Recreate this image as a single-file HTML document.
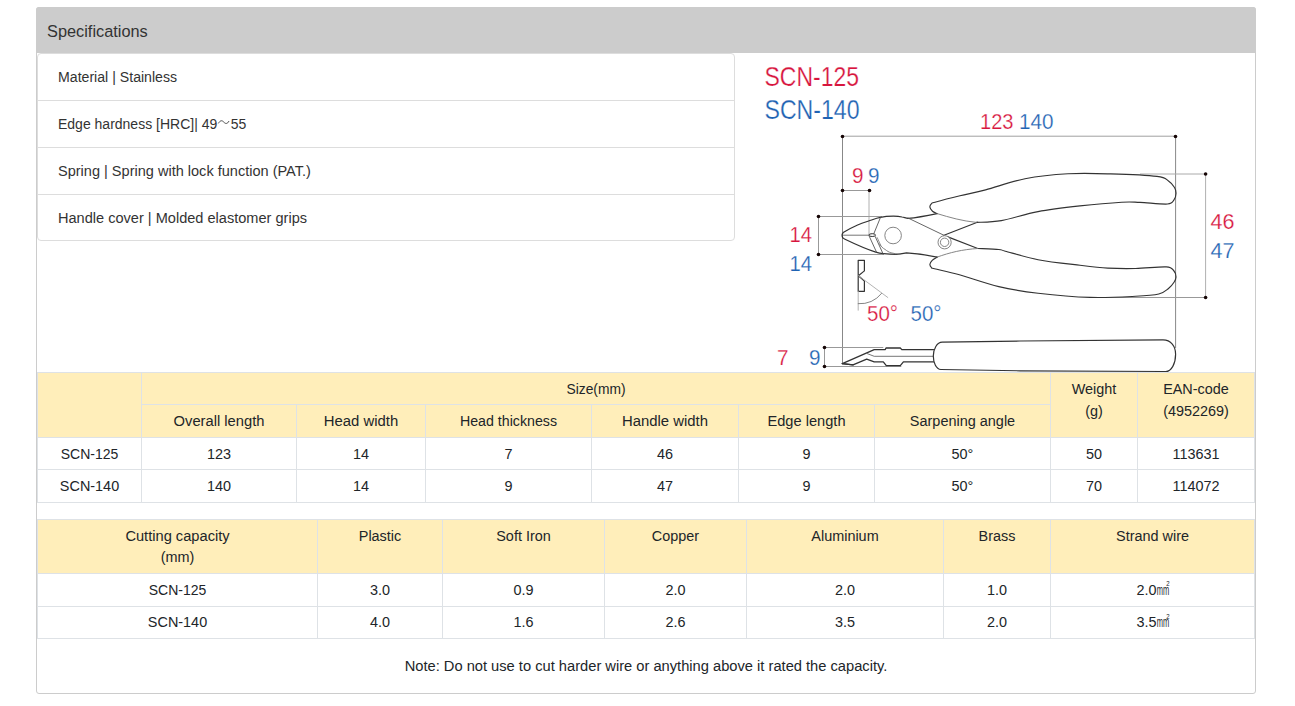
<!DOCTYPE html>
<html><head><meta charset="utf-8"><style>
html,body{margin:0;padding:0;background:#fff;width:1295px;height:706px;overflow:hidden;position:relative}
body{font-family:"Liberation Sans",sans-serif}
.a{position:absolute;box-sizing:content-box}
.tx{position:absolute;line-height:0;white-space:nowrap}
svg{position:absolute;left:0;top:0}
</style></head><body>
<div class="a" style="left:36px;top:7px;width:1218px;height:685px;border:1px solid #cccccc;border-radius:3px;background:#fff"></div>
<div class="a" style="left:36px;top:7px;width:1220px;height:46px;background:#cccccc;border-radius:3px 3px 0 0"></div>
<div class="tx" style="left:47px;top:32.14px;font-size:16.9px;color:#333;transform:scaleX(0.967);transform-origin:0 0;">Specifications</div>
<div class="a" style="left:37px;top:53px;width:696px;height:186px;border:1px solid #dddddd;border-radius:4px;background:#fff"></div>
<div class="a" style="left:38px;top:100px;width:696px;height:1px;background:#dddddd"></div>
<div class="a" style="left:38px;top:147px;width:696px;height:1px;background:#dddddd"></div>
<div class="a" style="left:38px;top:194px;width:696px;height:1px;background:#dddddd"></div>
<div class="tx" style="left:58px;top:76.83px;font-size:15.5px;color:#333;transform:scaleX(0.9116);transform-origin:0 0;">Material | Stainless</div>
<div class="tx" style="left:58px;top:123.83px;font-size:15.5px;color:#333;transform:scaleX(0.903);transform-origin:0 0;">Edge hardness [HRC]| 49<svg width="13" height="1" viewBox="0 0 13 1" style="position:relative;left:0;top:-6.5px;overflow:visible;vertical-align:baseline;margin:0 1px"><path d="M0.6,2.4 C2.5,-0.6 4.5,-1 6.5,1 C8.5,3 10.5,3.2 12.4,0" stroke="#333" stroke-width="0.9" fill="none"/></svg>55</div>
<div class="tx" style="left:58px;top:170.83px;font-size:15.5px;color:#333;transform:scaleX(0.9377);transform-origin:0 0;">Spring | Spring with lock function (PAT.)</div>
<div class="tx" style="left:58px;top:217.83px;font-size:15.5px;color:#333;transform:scaleX(0.9394);transform-origin:0 0;">Handle cover | Molded elastomer grips</div>
<svg width="1295" height="706" viewBox="0 0 1295 706" style="font-family:'Liberation Sans',sans-serif"><text x="764.5" y="85.6" font-size="27.5" fill="#d7153d" stroke="#fff" stroke-width="0.25" textLength="94.5" lengthAdjust="spacingAndGlyphs">SCN-125</text>
<text x="764.5" y="119.4" font-size="27.5" fill="#1f63b3" stroke="#fff" stroke-width="0.25" textLength="95" lengthAdjust="spacingAndGlyphs">SCN-140</text>
<text x="980" y="129.3" font-size="22.5" fill="#d7153d" stroke="#fff" stroke-width="0.25" textLength="33.5" lengthAdjust="spacingAndGlyphs">123</text>
<text x="1019" y="129.3" font-size="22.5" fill="#1f63b3" stroke="#fff" stroke-width="0.25" textLength="34.5" lengthAdjust="spacingAndGlyphs">140</text>
<text x="852" y="183" font-size="22.5" fill="#d7153d" stroke="#fff" stroke-width="0.25" textLength="11.5" lengthAdjust="spacingAndGlyphs">9</text>
<text x="868" y="183" font-size="22.5" fill="#1f63b3" stroke="#fff" stroke-width="0.25" textLength="11.5" lengthAdjust="spacingAndGlyphs">9</text>
<text x="789.5" y="242.4" font-size="22.5" fill="#d7153d" stroke="#fff" stroke-width="0.25" textLength="22.5" lengthAdjust="spacingAndGlyphs">14</text>
<text x="789.5" y="271" font-size="22.5" fill="#1f63b3" stroke="#fff" stroke-width="0.25" textLength="22.5" lengthAdjust="spacingAndGlyphs">14</text>
<text x="1210.5" y="229.4" font-size="22.5" fill="#d7153d" stroke="#fff" stroke-width="0.25" textLength="24" lengthAdjust="spacingAndGlyphs">46</text>
<text x="1210.5" y="257.5" font-size="22.5" fill="#1f63b3" stroke="#fff" stroke-width="0.25" textLength="24" lengthAdjust="spacingAndGlyphs">47</text>
<text x="867" y="321.4" font-size="22.5" fill="#d7153d" stroke="#fff" stroke-width="0.25" textLength="31" lengthAdjust="spacingAndGlyphs">50°</text>
<text x="910.5" y="321.4" font-size="22.5" fill="#1f63b3" stroke="#fff" stroke-width="0.25" textLength="31" lengthAdjust="spacingAndGlyphs">50°</text>
<text x="777" y="364.8" font-size="22.5" fill="#d7153d" stroke="#fff" stroke-width="0.25" textLength="11.5" lengthAdjust="spacingAndGlyphs">7</text>
<text x="809" y="364.8" font-size="22.5" fill="#1f63b3" stroke="#fff" stroke-width="0.25" textLength="11.5" lengthAdjust="spacingAndGlyphs">9</text>
<line x1="842.5" y1="136.2" x2="1175.5" y2="136.2" stroke="#a0a0a0" stroke-width="1"/>
<line x1="842.5" y1="136.5" x2="842.5" y2="363.6" stroke="#888" stroke-width="1"/>
<line x1="1175.6" y1="136.5" x2="1175.6" y2="348" stroke="#888" stroke-width="1"/>
<circle cx="842.5" cy="136.5" r="1.8" fill="#150505"/>
<circle cx="1175.5" cy="136.5" r="1.8" fill="#150505"/>
<line x1="842.5" y1="190.5" x2="869.5" y2="190.5" stroke="#999999" stroke-width="1"/>
<line x1="869.0" y1="190.5" x2="869.0" y2="235" stroke="#b0b0b0" stroke-width="1"/>
<circle cx="842.5" cy="190.5" r="1.8" fill="#150505"/>
<circle cx="869.5" cy="190.5" r="1.8" fill="#150505"/>
<line x1="818.5" y1="216.5" x2="818.5" y2="254.5" stroke="#999" stroke-width="1"/>
<line x1="818.5" y1="216.5" x2="882" y2="216.5" stroke="#999999" stroke-width="1"/>
<line x1="818.5" y1="254.5" x2="884" y2="254.5" stroke="#999999" stroke-width="1"/>
<circle cx="818.5" cy="216.5" r="1.8" fill="#150505"/>
<circle cx="818.5" cy="254.5" r="1.8" fill="#150505"/>
<line x1="1205.6" y1="173.9" x2="1205.6" y2="297.5" stroke="#b0b0b0" stroke-width="1"/>
<line x1="1140" y1="174.0" x2="1205.6" y2="174.0" stroke="#aaaaaa" stroke-width="1"/>
<line x1="1090" y1="297.5" x2="1205.6" y2="297.5" stroke="#999999" stroke-width="1"/>
<circle cx="1205.6" cy="174.0" r="1.8" fill="#150505"/>
<circle cx="1205.6" cy="297.5" r="1.8" fill="#150505"/>
<line x1="824.5" y1="347.5" x2="824.5" y2="366.5" stroke="#999" stroke-width="1"/>
<line x1="824.5" y1="347.5" x2="883.3" y2="347.5" stroke="#999999" stroke-width="1"/>
<line x1="824.5" y1="366.5" x2="901.3" y2="366.5" stroke="#999999" stroke-width="1"/>
<circle cx="824.5" cy="347.5" r="1.8" fill="#150505"/>
<circle cx="824.5" cy="366.5" r="1.8" fill="#150505"/>
<path d="M842.6,237.6 C842,236 842,233.6 843.2,232.6 C848,229.5 853,227 857.6,225 C862,223 865.5,222 868.6,221 C873,219.5 876.5,218 880.4,217.4 C884,216.6 888,216.2 893.4,216.2 C897,216.2 899.5,216.4 902,217 C904.5,217.5 906,218.2 908,218.4 C918,217.5 928,215.5 937.1,213.6" stroke="#333333" stroke-width="1.2" fill="none" stroke-linejoin="round" stroke-linecap="round"/>
<path d="M842.6,237.6 C843.2,238.3 844,238.7 845,239.2 C855,244 866,249 875.8,252.1 C878,252.9 881,253.5 883.6,253.7 C888,254.2 892,254.4 896.7,254.4 C901,254.2 904,253.4 906.5,252.9 C917,253.5 928,255.2 937.1,257.1" stroke="#333333" stroke-width="1.2" fill="none" stroke-linejoin="round" stroke-linecap="round"/>
<path d="M937.1,213.6 C936.33,213.20 933.70,212.27 932.5,211.2 C931.30,210.13 930.07,208.47 929.9,207.2 C929.73,205.93 930.65,204.43 931.5,203.6 C932.35,202.77 930.25,203.50 935,202.2 C939.75,200.90 951.57,197.85 960,195.8 C968.43,193.75 974.77,192.73 985.6,189.9 C996.43,187.07 1011.27,181.48 1025,178.8 C1038.73,176.12 1053.73,174.62 1068,173.8 C1082.27,172.98 1095.77,173.47 1110.6,173.9 C1125.43,174.33 1147.35,175.22 1157,176.4 C1166.65,177.58 1165.58,179.15 1168.5,181 C1171.42,182.85 1173.25,185.43 1174.5,187.5 C1175.75,189.57 1176.08,191.35 1176,193.4 C1175.92,195.45 1175.42,198.03 1174,199.8 C1172.58,201.57 1173.17,203.57 1167.5,204 C1161.83,204.43 1147.63,202.70 1140,202.4 C1132.37,202.10 1131.70,201.62 1121.7,202.2 C1111.70,202.78 1093.95,204.33 1080,205.9 C1066.05,207.47 1051.10,209.15 1038,211.6 C1024.90,214.05 1011.67,218.80 1001.4,220.6 C991.13,222.40 980.57,222.10 976.4,222.4" stroke="#333333" stroke-width="1.15" fill="none" stroke-linejoin="round" stroke-linecap="round"/>
<path d="M977.4,222.2 L944,235.3" stroke="#333333" stroke-width="1.15" fill="none" stroke-linejoin="round" stroke-linecap="round"/>
<path d="M937.1,257.1 C936.28,257.63 933.40,259.10 932.2,260.3 C931.00,261.50 930.02,263.08 929.9,264.3 C929.78,265.52 930.73,266.85 931.5,267.6 C932.27,268.35 929.85,267.60 934.5,268.8 C939.15,270.00 948.68,271.83 959.4,274.8 C970.12,277.77 985.68,283.53 998.8,286.6 C1011.92,289.67 1022.90,291.40 1038.1,293.2 C1053.30,295.00 1073.75,296.88 1090,297.4 C1106.25,297.92 1124.13,296.87 1135.6,296.3 C1147.07,295.73 1153.32,295.30 1158.8,294 C1164.28,292.70 1165.93,290.50 1168.5,288.5 C1171.07,286.50 1172.95,283.93 1174.2,282 C1175.45,280.07 1176.03,278.73 1176,276.9 C1175.97,275.07 1175.63,272.67 1174,271 C1172.37,269.33 1172.60,267.32 1166.2,266.9 C1159.80,266.48 1145.33,268.30 1135.6,268.5 C1125.87,268.70 1117.07,268.63 1107.8,268.1 C1098.53,267.57 1091.62,266.70 1080,265.3 C1068.38,263.90 1050.55,262.05 1038.1,259.7 C1025.65,257.35 1011.85,252.90 1005.3,251.2 C998.75,249.50 1003.38,249.95 998.8,249.5 C994.22,249.05 981.30,248.67 977.8,248.5" stroke="#333333" stroke-width="1.15" fill="none" stroke-linejoin="round" stroke-linecap="round"/>
<path d="M977.8,248.5 L947.2,236.6" stroke="#333333" stroke-width="1.15" fill="none" stroke-linejoin="round" stroke-linecap="round"/>
<path d="M937.1,213.6 C950,217.5 962,221 976.4,222.4" stroke="#777" stroke-width="0.9" fill="none" stroke-linejoin="round" stroke-linecap="round"/>
<path d="M937.1,257.1 C950,252.5 962,249.5 977.8,248.5" stroke="#777" stroke-width="0.9" fill="none" stroke-linejoin="round" stroke-linecap="round"/>
<path d="M908,218 L944,235.3" stroke="#555" stroke-width="0.9" fill="none" stroke-linejoin="round" stroke-linecap="round"/>
<circle cx="944.6" cy="242.3" r="6.6" stroke="#777" stroke-width="0.9" fill="#fff"/>
<circle cx="944.6" cy="242.3" r="4.2" stroke="#777" stroke-width="0.9" fill="none"/>
<path d="M843.5,235.2 L869,235.2" stroke="#666" stroke-width="0.9" fill="none" stroke-linejoin="round" stroke-linecap="round"/>
<path d="M880.4,217.6 L873.9,233.5" stroke="#555" stroke-width="0.9" fill="none" stroke-linejoin="round" stroke-linecap="round"/>
<path d="M869.3,236.4 L876.5,252.1" stroke="#555" stroke-width="0.9" fill="none" stroke-linejoin="round" stroke-linecap="round"/>
<path d="M875.2,236.5 L883,253.7" stroke="#555" stroke-width="0.9" fill="none" stroke-linejoin="round" stroke-linecap="round"/>
<path d="M877.2,237.6 L880.9,245.8" stroke="#777" stroke-width="0.8" fill="none" stroke-linejoin="round" stroke-linecap="round"/>
<path d="M879.5,244 C881,246.5 883,248.3 885,249.4 C887,251 889,252.2 891,252.8 C894,253.6 897,254 900,254.2" stroke="#777" stroke-width="0.9" fill="none" stroke-linejoin="round" stroke-linecap="round"/>
<ellipse cx="872.2" cy="235.1" rx="3.3" ry="1.4" stroke="#333" stroke-width="1" fill="#fff"/>
<circle cx="893.1" cy="235.5" r="8.3" stroke="#777" stroke-width="0.9" fill="none"/>
<path d="M858.2,260.3 L864.4,260.3 L864.4,270.9 L858.4,275.7 L864.4,281 L864.4,291.3 L858.2,291.3 Z" stroke="#333333" stroke-width="1.2" fill="none" stroke-linejoin="round" stroke-linecap="round"/>
<path d="M858.4,275.7 L887.8,297.5" stroke="#aaaaaa" stroke-width="0.9" fill="none" stroke-linejoin="round" stroke-linecap="round"/>
<path d="M858.2,291.3 L858.2,310.2" stroke="#aaaaaa" stroke-width="0.9" fill="none" stroke-linejoin="round" stroke-linecap="round"/>
<path d="M858.2,303.7 A28,28 0 0 0 881.6,293.4" stroke="#777" stroke-width="0.9" fill="none" stroke-linejoin="round" stroke-linecap="round"/>
<path d="M842.3,363.6 L874.2,349.6 L885.3,349.6 L886,348 L900.3,348 L901.8,349.6 L933.5,349.6" stroke="#333333" stroke-width="1.3" fill="none" stroke-linejoin="round" stroke-linecap="round"/>
<path d="M867.2,353.6 L874.2,356.3 L933.5,356.3" stroke="#666" stroke-width="0.9" fill="none" stroke-linejoin="round" stroke-linecap="round"/>
<path d="M842.3,363.6 L853,364.9 L866.7,359.1 L874.2,361.9 L883.3,361.9 L886.3,365.6 L900.3,365.6 L903.4,361.9 L933.5,361.9" stroke="#333333" stroke-width="1.3" fill="none" stroke-linejoin="round" stroke-linecap="round"/>
<path d="M842.3,363.6 L853,364.9" stroke="#333333" stroke-width="1.3" fill="none" stroke-linejoin="round" stroke-linecap="round"/>
<path d="M942.2,342.1 L1020,341 L1163,339.9 C1171,339.9 1175.6,346.5 1175.6,354.2 C1175.6,363.5 1171.5,371.5 1165.7,371.5 L1020,370.8 L940.9,369.5 C936,369.5 933.3,362 933.3,356.1 C933.3,349 937,342.1 942.2,342.1 Z" stroke="#333333" stroke-width="1.2" fill="#fff" stroke-linejoin="round" stroke-linecap="round"/></svg>
<div class="a" style="left:37px;top:372px;width:1218px;height:66px;background:#ffeeba"></div>
<div class="a" style="left:37px;top:437px;width:1218px;height:66px;background:#fff"></div>
<div class="a" style="left:37px;top:372px;width:1218px;height:1px;background:#dee2e6"></div>
<div class="a" style="left:37px;top:437px;width:1218px;height:1px;background:#dee2e6"></div>
<div class="a" style="left:37px;top:469px;width:1218px;height:1px;background:#dee2e6"></div>
<div class="a" style="left:37px;top:502px;width:1218px;height:1px;background:#dee2e6"></div>
<div class="a" style="left:141px;top:404px;width:910px;height:1px;background:#dee2e6"></div>
<div class="a" style="left:37px;top:372px;width:1px;height:131px;background:#dee2e6"></div>
<div class="a" style="left:141px;top:372px;width:1px;height:131px;background:#dee2e6"></div>
<div class="a" style="left:296px;top:404px;width:1px;height:99px;background:#dee2e6"></div>
<div class="a" style="left:425px;top:404px;width:1px;height:99px;background:#dee2e6"></div>
<div class="a" style="left:591px;top:404px;width:1px;height:99px;background:#dee2e6"></div>
<div class="a" style="left:738px;top:404px;width:1px;height:99px;background:#dee2e6"></div>
<div class="a" style="left:874px;top:404px;width:1px;height:99px;background:#dee2e6"></div>
<div class="a" style="left:1050px;top:372px;width:1px;height:131px;background:#dee2e6"></div>
<div class="a" style="left:1137px;top:372px;width:1px;height:131px;background:#dee2e6"></div>
<div class="a" style="left:1254px;top:372px;width:1px;height:131px;background:#dee2e6"></div>
<div class="tx" style="left:142px;width:908px;text-align:center;top:388.63px;font-size:15.5px;color:#212529;transform:scaleX(0.8908);transform-origin:50% 0;">Size(mm)</div>
<div class="tx" style="left:142px;width:154px;text-align:center;top:420.93px;font-size:15.5px;color:#212529;transform:scaleX(0.95);transform-origin:50% 0;">Overall length</div>
<div class="tx" style="left:297px;width:128px;text-align:center;top:420.93px;font-size:15.5px;color:#212529;transform:scaleX(0.9592);transform-origin:50% 0;">Head width</div>
<div class="tx" style="left:426px;width:165px;text-align:center;top:420.93px;font-size:15.5px;color:#212529;transform:scaleX(0.9162);transform-origin:50% 0;">Head thickness</div>
<div class="tx" style="left:592px;width:146px;text-align:center;top:420.93px;font-size:15.5px;color:#212529;transform:scaleX(0.9591);transform-origin:50% 0;">Handle width</div>
<div class="tx" style="left:739px;width:135px;text-align:center;top:420.93px;font-size:15.5px;color:#212529;transform:scaleX(0.9432);transform-origin:50% 0;">Edge length</div>
<div class="tx" style="left:875px;width:175px;text-align:center;top:420.93px;font-size:15.5px;color:#212529;transform:scaleX(0.9324);transform-origin:50% 0;">Sarpening angle</div>
<div class="tx" style="left:1051px;width:86px;text-align:center;top:388.63px;font-size:15.5px;color:#212529;transform:scaleX(0.93);transform-origin:50% 0;">Weight</div>
<div class="tx" style="left:1051px;width:86px;text-align:center;top:410.63px;font-size:15.5px;color:#212529;transform:scaleX(0.93);transform-origin:50% 0;">(g)</div>
<div class="tx" style="left:1138px;width:116px;text-align:center;top:388.63px;font-size:15.5px;color:#212529;transform:scaleX(0.93);transform-origin:50% 0;">EAN-code</div>
<div class="tx" style="left:1138px;width:116px;text-align:center;top:410.63px;font-size:15.5px;color:#212529;transform:scaleX(0.93);transform-origin:50% 0;">(4952269)</div>
<div class="tx" style="left:38px;width:103px;text-align:center;top:453.93px;font-size:15.5px;color:#212529;transform:scaleX(0.9032);transform-origin:50% 0;">SCN-125</div>
<div class="tx" style="left:142px;width:154px;text-align:center;top:453.93px;font-size:15.5px;color:#212529;transform:scaleX(0.93);transform-origin:50% 0;">123</div>
<div class="tx" style="left:297px;width:128px;text-align:center;top:453.93px;font-size:15.5px;color:#212529;transform:scaleX(0.93);transform-origin:50% 0;">14</div>
<div class="tx" style="left:426px;width:165px;text-align:center;top:453.93px;font-size:15.5px;color:#212529;transform:scaleX(0.93);transform-origin:50% 0;">7</div>
<div class="tx" style="left:592px;width:146px;text-align:center;top:453.93px;font-size:15.5px;color:#212529;transform:scaleX(0.93);transform-origin:50% 0;">46</div>
<div class="tx" style="left:739px;width:135px;text-align:center;top:453.93px;font-size:15.5px;color:#212529;transform:scaleX(0.93);transform-origin:50% 0;">9</div>
<div class="tx" style="left:875px;width:175px;text-align:center;top:453.93px;font-size:15.5px;color:#212529;transform:scaleX(0.93);transform-origin:50% 0;">50°</div>
<div class="tx" style="left:1051px;width:86px;text-align:center;top:453.93px;font-size:15.5px;color:#212529;transform:scaleX(0.93);transform-origin:50% 0;">50</div>
<div class="tx" style="left:1138px;width:116px;text-align:center;top:453.93px;font-size:15.5px;color:#212529;transform:scaleX(0.93);transform-origin:50% 0;">113631</div>
<div class="tx" style="left:38px;width:103px;text-align:center;top:486.43px;font-size:15.5px;color:#212529;transform:scaleX(0.93);transform-origin:50% 0;">SCN-140</div>
<div class="tx" style="left:142px;width:154px;text-align:center;top:486.43px;font-size:15.5px;color:#212529;transform:scaleX(0.93);transform-origin:50% 0;">140</div>
<div class="tx" style="left:297px;width:128px;text-align:center;top:486.43px;font-size:15.5px;color:#212529;transform:scaleX(0.93);transform-origin:50% 0;">14</div>
<div class="tx" style="left:426px;width:165px;text-align:center;top:486.43px;font-size:15.5px;color:#212529;transform:scaleX(0.93);transform-origin:50% 0;">9</div>
<div class="tx" style="left:592px;width:146px;text-align:center;top:486.43px;font-size:15.5px;color:#212529;transform:scaleX(0.93);transform-origin:50% 0;">47</div>
<div class="tx" style="left:739px;width:135px;text-align:center;top:486.43px;font-size:15.5px;color:#212529;transform:scaleX(0.93);transform-origin:50% 0;">9</div>
<div class="tx" style="left:875px;width:175px;text-align:center;top:486.43px;font-size:15.5px;color:#212529;transform:scaleX(0.93);transform-origin:50% 0;">50°</div>
<div class="tx" style="left:1051px;width:86px;text-align:center;top:486.43px;font-size:15.5px;color:#212529;transform:scaleX(0.93);transform-origin:50% 0;">70</div>
<div class="tx" style="left:1138px;width:116px;text-align:center;top:486.43px;font-size:15.5px;color:#212529;transform:scaleX(0.93);transform-origin:50% 0;">114072</div>
<div class="a" style="left:37px;top:519px;width:1218px;height:55px;background:#ffeeba"></div>
<div class="a" style="left:37px;top:519px;width:1218px;height:1px;background:#dee2e6"></div>
<div class="a" style="left:37px;top:573px;width:1218px;height:1px;background:#dee2e6"></div>
<div class="a" style="left:37px;top:606px;width:1218px;height:1px;background:#dee2e6"></div>
<div class="a" style="left:37px;top:638px;width:1218px;height:1px;background:#dee2e6"></div>
<div class="a" style="left:37px;top:519px;width:1px;height:120px;background:#dee2e6"></div>
<div class="a" style="left:317px;top:519px;width:1px;height:120px;background:#dee2e6"></div>
<div class="a" style="left:442px;top:519px;width:1px;height:120px;background:#dee2e6"></div>
<div class="a" style="left:604px;top:519px;width:1px;height:120px;background:#dee2e6"></div>
<div class="a" style="left:746px;top:519px;width:1px;height:120px;background:#dee2e6"></div>
<div class="a" style="left:943px;top:519px;width:1px;height:120px;background:#dee2e6"></div>
<div class="a" style="left:1050px;top:519px;width:1px;height:120px;background:#dee2e6"></div>
<div class="a" style="left:1254px;top:519px;width:1px;height:120px;background:#dee2e6"></div>
<div class="tx" style="left:38px;width:279px;text-align:center;top:535.63px;font-size:15.5px;color:#212529;transform:scaleX(0.945);transform-origin:50% 0;">Cutting capacity</div>
<div class="tx" style="left:318px;width:124px;text-align:center;top:535.63px;font-size:15.5px;color:#212529;transform:scaleX(0.93);transform-origin:50% 0;">Plastic</div>
<div class="tx" style="left:443px;width:161px;text-align:center;top:535.63px;font-size:15.5px;color:#212529;transform:scaleX(0.93);transform-origin:50% 0;">Soft Iron</div>
<div class="tx" style="left:605px;width:141px;text-align:center;top:535.63px;font-size:15.5px;color:#212529;transform:scaleX(0.93);transform-origin:50% 0;">Copper</div>
<div class="tx" style="left:747px;width:196px;text-align:center;top:535.63px;font-size:15.5px;color:#212529;transform:scaleX(0.93);transform-origin:50% 0;">Aluminium</div>
<div class="tx" style="left:944px;width:106px;text-align:center;top:535.63px;font-size:15.5px;color:#212529;transform:scaleX(0.93);transform-origin:50% 0;">Brass</div>
<div class="tx" style="left:1051px;width:203px;text-align:center;top:535.63px;font-size:15.5px;color:#212529;transform:scaleX(0.93);transform-origin:50% 0;">Strand wire</div>
<div class="tx" style="left:38px;width:279px;text-align:center;top:556.63px;font-size:15.5px;color:#212529;transform:scaleX(0.93);transform-origin:50% 0;">(mm)</div>
<div class="tx" style="left:38px;width:279px;text-align:center;top:589.93px;font-size:15.5px;color:#212529;transform:scaleX(0.9032);transform-origin:50% 0;">SCN-125</div>
<div class="tx" style="left:318px;width:124px;text-align:center;top:589.93px;font-size:15.5px;color:#212529;transform:scaleX(0.93);transform-origin:50% 0;">3.0</div>
<div class="tx" style="left:443px;width:161px;text-align:center;top:589.93px;font-size:15.5px;color:#212529;transform:scaleX(0.93);transform-origin:50% 0;">0.9</div>
<div class="tx" style="left:605px;width:141px;text-align:center;top:589.93px;font-size:15.5px;color:#212529;transform:scaleX(0.93);transform-origin:50% 0;">2.0</div>
<div class="tx" style="left:747px;width:196px;text-align:center;top:589.93px;font-size:15.5px;color:#212529;transform:scaleX(0.93);transform-origin:50% 0;">2.0</div>
<div class="tx" style="left:944px;width:106px;text-align:center;top:589.93px;font-size:15.5px;color:#212529;transform:scaleX(0.93);transform-origin:50% 0;">1.0</div>
<div class="tx" style="left:1051px;width:203px;text-align:center;top:589.93px;font-size:15.5px;color:#212529;transform:scaleX(0.93);transform-origin:50% 0;">2.0<span style="display:inline-block;width:13px;position:relative;text-align:left">&#8203;<span style="position:absolute;left:0;top:0;transform:scaleX(0.52);transform-origin:0 0">mm</span><span style="position:absolute;left:10.5px;top:-5.5px;font-size:6.5px">2</span></span></div>
<div class="tx" style="left:38px;width:279px;text-align:center;top:622.43px;font-size:15.5px;color:#212529;transform:scaleX(0.93);transform-origin:50% 0;">SCN-140</div>
<div class="tx" style="left:318px;width:124px;text-align:center;top:622.43px;font-size:15.5px;color:#212529;transform:scaleX(0.93);transform-origin:50% 0;">4.0</div>
<div class="tx" style="left:443px;width:161px;text-align:center;top:622.43px;font-size:15.5px;color:#212529;transform:scaleX(0.93);transform-origin:50% 0;">1.6</div>
<div class="tx" style="left:605px;width:141px;text-align:center;top:622.43px;font-size:15.5px;color:#212529;transform:scaleX(0.93);transform-origin:50% 0;">2.6</div>
<div class="tx" style="left:747px;width:196px;text-align:center;top:622.43px;font-size:15.5px;color:#212529;transform:scaleX(0.93);transform-origin:50% 0;">3.5</div>
<div class="tx" style="left:944px;width:106px;text-align:center;top:622.43px;font-size:15.5px;color:#212529;transform:scaleX(0.93);transform-origin:50% 0;">2.0</div>
<div class="tx" style="left:1051px;width:203px;text-align:center;top:622.43px;font-size:15.5px;color:#212529;transform:scaleX(0.93);transform-origin:50% 0;">3.5<span style="display:inline-block;width:13px;position:relative;text-align:left">&#8203;<span style="position:absolute;left:0;top:0;transform:scaleX(0.52);transform-origin:0 0">mm</span><span style="position:absolute;left:10.5px;top:-5.5px;font-size:6.5px">2</span></span></div>
<div class="tx" style="left:38px;width:1216px;text-align:center;top:665.93px;font-size:15.5px;color:#212529;transform:scaleX(0.9469);transform-origin:50% 0;">Note: Do not use to cut harder wire or anything above it rated the capacity.</div>
</body></html>
